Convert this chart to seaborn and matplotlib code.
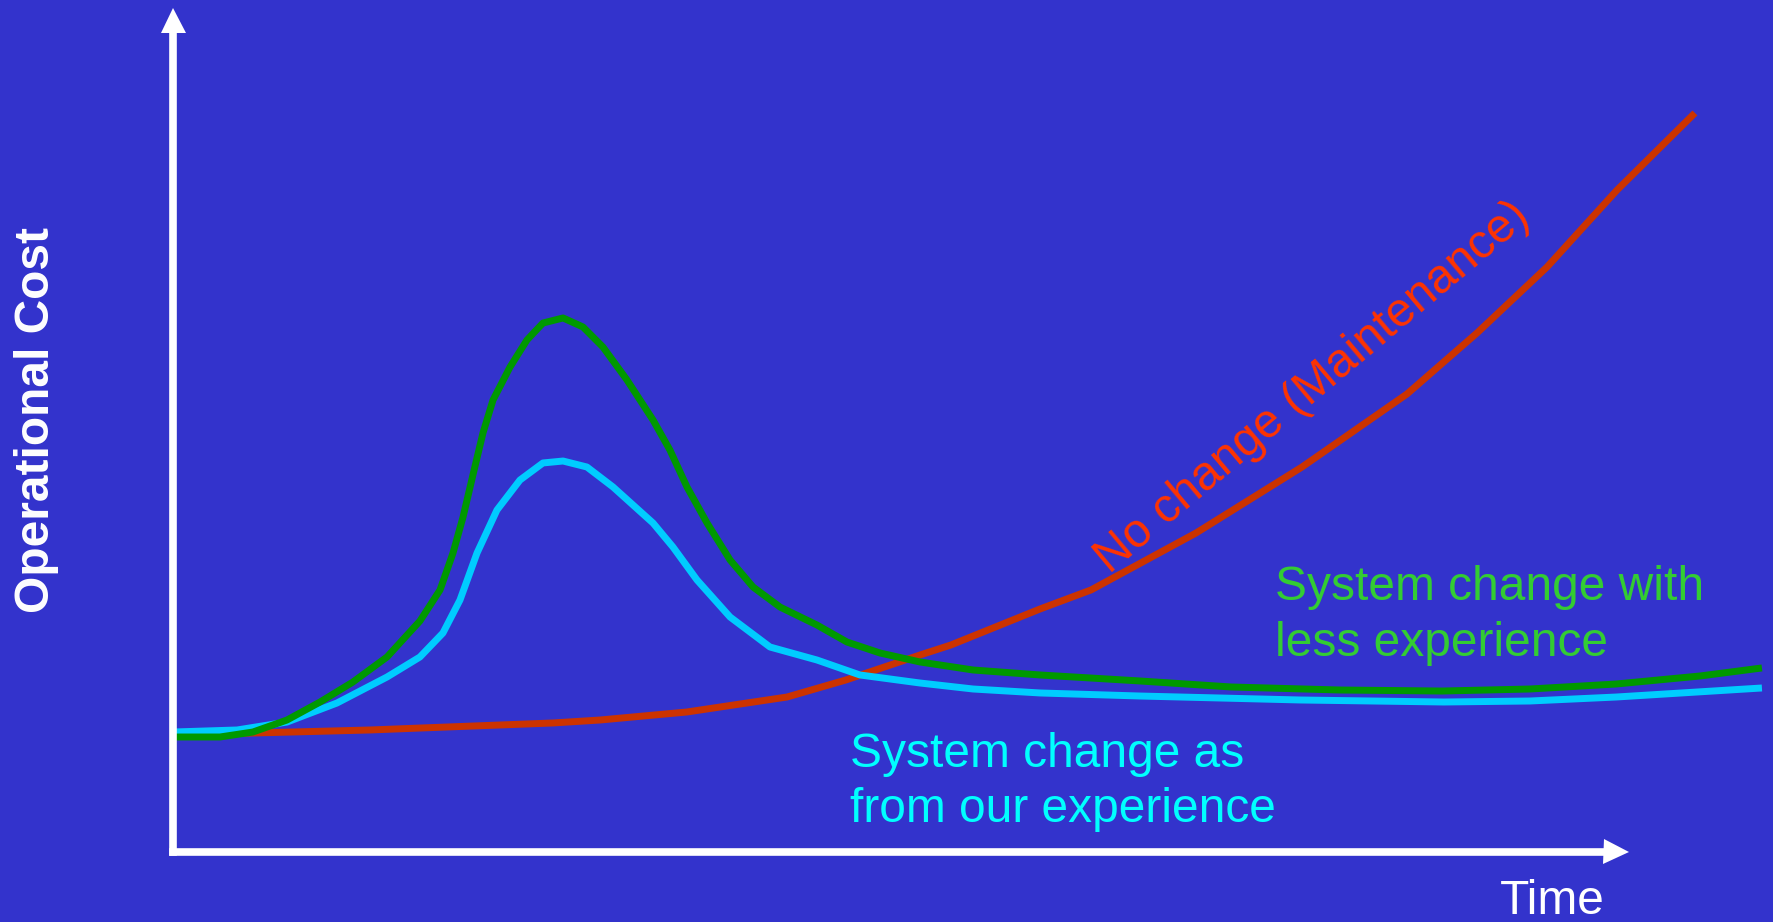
import pandas as pd
import matplotlib.pyplot as plt
import seaborn as sns

# time runs 0..100 along the x arrow, cost 0..100 up the y arrow
red_time = [0, 5.49, 13.53, 16.96, 26.10, 29.33, 35.30, 38.94, 42.17, 46.22, 51.30, 53.43,
            59.55, 63.05, 70.26, 77.54, 84.75, 89.56, 94.37, 99.18, 104.53]
red_cost = [13.85, 14.08, 14.44, 14.67, 15.27, 15.62, 16.57, 17.51, 18.34, 20.36, 23.31, 24.50,
            28.76, 31.01, 37.75, 45.56, 54.20, 61.42, 69.23, 78.34, 87.46]

green_time = [0, 1.85, 3.23, 5.49, 7.83, 10.10, 12.36, 14.70, 16.96, 18.34, 19.23, 19.92,
              20.60, 21.29, 21.98, 23.15, 24.31, 25.41, 26.79, 28.16, 29.53, 31.18, 32.97,
              34.13, 35.30, 36.68, 38.26, 39.84, 41.69, 44.23, 46.29, 48.56, 51.30, 54.95,
              59.55, 66.41, 72.66, 80.15, 87.16, 93.20, 99.11, 104.88, 109.13]
green_cost = [13.61, 13.61, 13.61, 14.20, 15.62, 17.75, 20.12, 23.08, 27.34, 31.01, 35.38, 39.64,
              44.62, 49.59, 53.49, 57.40, 60.59, 62.60, 63.20, 62.13, 59.76, 55.86, 51.12,
              47.57, 43.20, 38.93, 34.56, 31.36, 28.99, 26.86, 24.85, 23.55, 22.49, 21.54,
              20.95, 20.24, 19.53, 19.17, 19.05, 19.29, 19.88, 20.83, 21.78]

cyan_time = [0, 4.40, 7.83, 11.26, 14.70, 16.96, 18.54, 19.71, 20.88, 22.25, 23.83, 25.41,
             26.79, 28.43, 30.22, 32.97, 34.34, 35.99, 38.26, 41.00, 44.23, 47.18, 51.30,
             54.95, 59.55, 66.41, 77.40, 87.29, 93.20, 99.11, 109.13]
cyan_cost = [14.20, 14.44, 15.38, 17.63, 20.71, 23.08, 25.92, 29.82, 35.38, 40.47, 44.02, 46.04,
             46.27, 45.56, 43.20, 38.93, 36.09, 32.19, 27.81, 24.26, 22.72, 20.95, 20.00,
             19.29, 18.82, 18.46, 17.99, 17.75, 17.87, 18.34, 19.41]

bg = '#3333CC'
sns.set_style('white', {'axes.facecolor': bg, 'figure.facecolor': bg})
plt.rcParams['font.family'] = ['Liberation Sans', 'DejaVu Sans']

W, H = 1774, 922
fig = plt.figure(figsize=(W / 100, H / 100), dpi=100)
ax = fig.add_axes([173 / W, (H - 852) / H, (1629 - 173) / W, (852 - 7) / H])

red = pd.DataFrame({'time': red_time, 'cost': red_cost})
cyan = pd.DataFrame({'time': cyan_time, 'cost': cyan_cost})
green = pd.DataFrame({'time': green_time, 'cost': green_cost})

lw = 5
style = dict(linewidth=lw, ax=ax, clip_on=False, solid_capstyle='butt', solid_joinstyle='round')
sns.lineplot(data=red, x='time', y='cost', color='#CC3300', **style)
sns.lineplot(data=cyan, x='time', y='cost', color='#00CCFF', **style)
sns.lineplot(data=green, x='time', y='cost', color='#009900', **style)

ax.set_xlim(0, 100)
ax.set_ylim(0, 100)
ax.set_xticks([])
ax.set_yticks([])
ax.set_xlabel('')
ax.set_ylabel('')
for s in ax.spines.values():
    s.set_visible(False)

# axis arrows (line + triangle head)
ax.plot([0, 0], [0, 0.975], color='white', lw=5.5, transform=ax.transAxes,
        clip_on=False, solid_capstyle='projecting')
ax.plot([0, 0.985], [0, 0], color='white', lw=5.5, transform=ax.transAxes,
        clip_on=False, solid_capstyle='projecting')
ax.plot([0], [1 - 13 / 845], marker='^', ms=18, mew=0, color='white',
        transform=ax.transAxes, clip_on=False)
ax.plot([1 - 13 / 1456], [0], marker='>', ms=18, mew=0, color='white',
        transform=ax.transAxes, clip_on=False)

fs = 34.5
fig.text(49 / W, 1 - 420 / H, 'Operational Cost', color='white', fontsize=fs,
         fontweight='bold', rotation=90, rotation_mode='anchor', ha='center', va='baseline')
fig.text(1500 / W, 1 - 914 / H, 'Time', color='white', fontsize=fs, va='baseline')

fig.text(1275 / W, 1 - 600 / H, 'System change with', color='#33CC33', fontsize=fs, va='baseline')
fig.text(1275 / W, 1 - 656 / H, 'less experience', color='#33CC33', fontsize=fs, va='baseline')

fig.text(850 / W, 1 - 767 / H, 'System change as', color='#00FFFF', fontsize=fs, va='baseline')
fig.text(850 / W, 1 - 822 / H, 'from our experience', color='#00FFFF', fontsize=fs, va='baseline')

fig.text(1313 / W, 1 - 388 / H, 'No change (Maintenance)', color='#FF3300', fontsize=fs,
         rotation=40, ha='center', va='center')

fig.savefig('out.png', dpi=100, facecolor=bg)
